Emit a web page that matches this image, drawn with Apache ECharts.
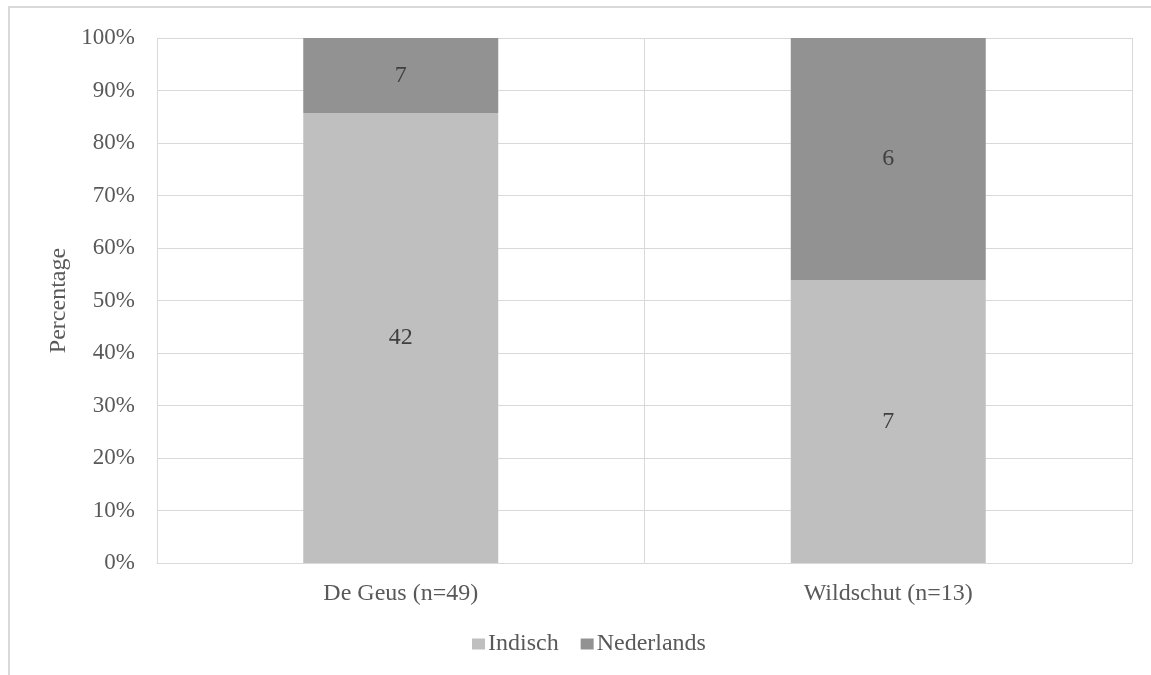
<!DOCTYPE html>
<html><head><meta charset="utf-8">
<script src="https://cdn.jsdelivr.net/npm/echarts@6/dist/echarts.min.js"></script>
<style>html,body{margin:0;padding:0;background:#fff}#c{width:1151px;height:675px}</style>
</head><body><div id="c"></div>
<script>
const categories = ['De Geus (n=49)', 'Wildschut (n=13)'];
const indisch = [42, 7];
const nederlands = [7, 6];
const yTicks = ['0%','10%','20%','30%','40%','50%','60%','70%','80%','90%','100%'];

const totals = categories.map((_, i) => indisch[i] + nederlands[i]);
const pct = (arr) => arr.map((v, i) => ({ value: v / totals[i] * 100, count: v }));

const FONT = '"Liberation Serif", "Times New Roman", serif';
const TXT = '#595959';
const chart = echarts.init(document.getElementById('c'));
chart.setOption({
  animation: false,
  textStyle: { fontFamily: FONT },
  graphic: [{
    type: 'rect', silent: true,
    shape: { x: 9, y: 7, width: 1200, height: 700 },
    style: { fill: 'none', stroke: '#d9d9d9', lineWidth: 2 }
  }],
  grid: { left: 157, right: 19, top: 38, bottom: 112 },
  legend: {
    top: 632, left: 472, padding: 0,
    itemWidth: 13, itemHeight: 11, itemGap: 22,
    textStyle: { fontFamily: FONT, fontSize: 24, color: TXT, padding: [0, 0, 0, -2] },
    icon: 'rect',
    data: ['Indisch', 'Nederlands']
  },
  xAxis: {
    type: 'category', data: categories,
    axisLine: { lineStyle: { color: '#d9d9d9', width: 1 } },
    axisTick: { show: false },
    splitLine: { show: true, lineStyle: { color: '#d9d9d9' } },
    axisLabel: { fontFamily: FONT, fontSize: 24, color: TXT, margin: 19 }
  },
  yAxis: {
    type: 'value', min: 0, max: 100, interval: 10,
    name: 'Percentage', nameLocation: 'middle', nameGap: 84,
    nameTextStyle: { fontFamily: FONT, fontSize: 24, color: TXT },
    axisLine: { show: false }, axisTick: { show: false },
    splitLine: { lineStyle: { color: '#d9d9d9' } },
    axisLabel: { fontFamily: FONT, fontSize: 23, color: TXT, margin: 22,
      formatter: (v) => yTicks[Math.round(v / 10)] }
  },
  series: [
    { name: 'Indisch', type: 'bar', stack: 'a', barWidth: '40%',
      itemStyle: { color: '#bfbfbf' }, data: pct(indisch),
      label: { show: true, position: 'inside', fontFamily: FONT, fontSize: 24, color: '#404040',
        formatter: (p) => p.data.count } },
    { name: 'Nederlands', type: 'bar', stack: 'a', barWidth: '40%',
      itemStyle: { color: '#929292' }, data: pct(nederlands),
      label: { show: true, position: 'inside', fontFamily: FONT, fontSize: 24, color: '#404040',
        formatter: (p) => p.data.count } }
  ]
});
</script></body></html>
